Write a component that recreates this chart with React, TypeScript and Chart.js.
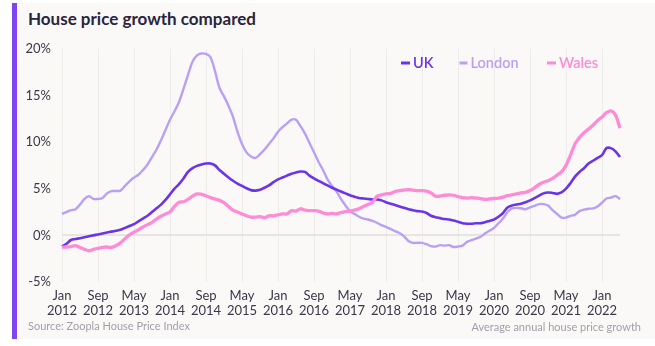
import React, { useEffect, useRef } from "react";
import { Chart, registerables } from "chart.js";

Chart.register(...registerables);

const MONTHS = ["Jan", "Feb", "Mar", "Apr", "May", "Jun", "Jul", "Aug", "Sep", "Oct", "Nov", "Dec"];
const START_YEAR = 2012;
const N_MONTHS = 125; // Jan 2012 .. May 2022
const categories: string[] = [];
for (let i = 0; i < N_MONTHS; i++) {
  categories.push(MONTHS[i % 12] + " " + (START_YEAR + Math.floor(i / 12)));
}
const TICK_EVERY = 8;

const ukValues = [
  // 2012
  -1.2, -0.9, -0.5, -0.4, -0.3, -0.2, -0.1, 0.0, 0.1, 0.2, 0.3, 0.4,
  // 2013
  0.5, 0.6, 0.8, 1.0, 1.2, 1.5, 1.8, 2.1, 2.5, 2.9, 3.3, 3.8,
  // 2014
  4.4, 5.0, 5.5, 6.1, 6.8, 7.2, 7.45, 7.6, 7.7, 7.7, 7.5, 7.0,
  // 2015
  6.6, 6.2, 5.85, 5.55, 5.3, 5.05, 4.85, 4.8, 4.9, 5.1, 5.35, 5.7,
  // 2016
  6.0, 6.2, 6.4, 6.6, 6.75, 6.85, 6.8, 6.4, 6.1, 5.85, 5.6, 5.35,
  // 2017
  5.1, 4.9, 4.7, 4.5, 4.3, 4.15, 4.0, 3.95, 3.9, 3.85, 3.85, 3.75,
  // 2018
  3.55, 3.4, 3.25, 3.1, 2.95, 2.8, 2.7, 2.6, 2.55, 2.4, 2.1, 1.95,
  // 2019
  1.85, 1.75, 1.7, 1.6, 1.45, 1.3, 1.25, 1.25, 1.3, 1.3, 1.4, 1.55,
  // 2020
  1.7, 2.0, 2.4, 3.0, 3.2, 3.3, 3.4, 3.55, 3.75, 4.0, 4.25, 4.5,
  // 2021
  4.6, 4.55, 4.45, 4.6, 5.0, 5.6, 6.3, 6.8, 7.2, 7.7, 8.0, 8.3,
  // 2022
  8.6, 9.35, 9.35, 9.0, 8.4,
];

const londonValues = [
  // 2012
  2.3, 2.5, 2.7, 2.8, 3.3, 3.9, 4.2, 3.9, 3.9, 4.0, 4.5, 4.75,
  // 2013
  4.75, 4.8, 5.3, 5.8, 6.2, 6.5, 7.0, 7.6, 8.4, 9.2, 10.2, 11.3,
  // 2014
  12.4, 13.3, 14.3, 15.7, 17.2, 18.6, 19.3, 19.5, 19.45, 19.1, 17.6, 15.8,
  // 2015
  14.9, 13.9, 12.7, 11.1, 9.8, 8.9, 8.45, 8.3, 8.7, 9.2, 9.8, 10.4,
  // 2016
  11.1, 11.6, 12.0, 12.4, 12.4, 11.7, 10.9, 9.9, 8.9, 7.9, 7.0, 6.0,
  // 2017
  5.3, 4.7, 3.9, 3.2, 2.6, 2.3, 2.0, 1.8, 1.7, 1.55, 1.35, 1.1,
  // 2018
  0.9, 0.7, 0.45, 0.25, -0.1, -0.6, -0.8, -0.8, -0.8, -0.95, -1.15, -1.2,
  // 2019
  -1.05, -1.1, -1.05, -1.25, -1.2, -1.1, -0.7, -0.5, -0.35, -0.15, 0.2, 0.5,
  // 2020
  0.8, 1.3, 1.8, 2.5, 2.9, 2.95, 2.9, 2.8, 3.0, 3.15, 3.35, 3.35,
  // 2021
  3.2, 2.7, 2.3, 1.9, 1.9, 2.1, 2.2, 2.6, 2.75, 2.85, 2.9, 3.1,
  // 2022
  3.5, 3.95, 4.05, 4.2, 3.9,
];

const walesValues = [
  // 2012
  -1.25, -1.25, -1.2, -1.1, -1.3, -1.5, -1.65, -1.5, -1.4, -1.3, -1.25, -1.3,
  // 2013
  -1.1, -0.8, -0.35, 0.05, 0.35, 0.6, 0.9, 1.15, 1.4, 1.75, 2.05, 2.3,
  // 2014
  2.5, 3.1, 3.55, 3.6, 3.85, 4.2, 4.45, 4.4, 4.25, 4.05, 3.9, 3.75,
  // 2015
  3.5, 3.1, 2.7, 2.5, 2.3, 2.1, 1.95, 1.95, 2.0, 1.9, 2.1, 2.1,
  // 2016
  2.2, 2.3, 2.3, 2.65, 2.6, 2.85, 2.7, 2.65, 2.65, 2.6, 2.4, 2.3,
  // 2017
  2.35, 2.3, 2.45, 2.55, 2.6, 2.7, 2.85, 3.1, 3.3, 3.55, 4.2, 4.35,
  // 2018
  4.45, 4.5, 4.7, 4.8, 4.85, 4.9, 4.85, 4.8, 4.8, 4.75, 4.55, 4.2,
  // 2019
  4.2, 4.3, 4.35, 4.3, 4.15, 4.05, 4.0, 4.05, 4.0, 3.95, 3.85, 3.9,
  // 2020
  3.95, 4.0, 4.1, 4.25, 4.35, 4.45, 4.55, 4.6, 4.8, 5.1, 5.45, 5.7,
  // 2021
  5.85, 6.1, 6.45, 6.8, 7.5, 8.6, 9.8, 10.5, 11.0, 11.4, 11.8, 12.3,
  // 2022
  12.7, 13.15, 13.35, 12.9, 11.5,
];

const Y_MIN = -5;
const Y_MAX = 20;
const Y_STEP = 5;

const COLOR_UK = "#6c34ea";
const COLOR_LONDON = "#b9a0f6";
const COLOR_WALES = "#ff8ad5";
const FONT = "Lato, 'Open Sans', sans-serif";

const legendItems = [
  { label: "UK", color: COLOR_UK },
  { label: "London", color: COLOR_LONDON },
  { label: "Wales", color: COLOR_WALES },
];

const legendPlugin = {
  id: "customLegend",
  afterDraw(chart: any) {
    const ctx = chart.ctx;
    // positions in canvas coordinates
    const xs = [384, 442.5, 530];
    const widths = [9, 8, 9];
    const y = 33;
    ctx.save();
    ctx.font = "600 14.5px " + FONT;
    ctx.textBaseline = "middle";
    legendItems.forEach((it, i) => {
      ctx.fillStyle = it.color;
      ctx.fillRect(xs[i], y - 1.5, widths[i], 3);
      ctx.fillText(it.label, xs[i] + widths[i] + 3, y + 0.5);
    });
    ctx.restore();
  },
};

export default function App() {
  const ref = useRef<HTMLCanvasElement | null>(null);

  useEffect(() => {
    if (!ref.current) return;
    const chart = new Chart(ref.current, {
      type: "line",
      data: {
        labels: categories,
        datasets: [
          {
            label: "UK",
            data: ukValues,
            borderColor: COLOR_UK,
            borderWidth: 2.6,
            pointRadius: 0,
            tension: 0.3,
            order: 1,
          },
          {
            label: "London",
            data: londonValues,
            borderColor: COLOR_LONDON,
            borderWidth: 2.4,
            pointRadius: 0,
            tension: 0.3,
            order: 2,
          },
          {
            label: "Wales",
            data: walesValues,
            borderColor: COLOR_WALES,
            borderWidth: 3.3,
            pointRadius: 0,
            tension: 0.3,
            order: 0,
          },
        ],
      },
      options: {
        responsive: false,
        animation: false,
        devicePixelRatio: 1,
        layout: { padding: { left: 0, right: 35, top: 18, bottom: 8 } },
        plugins: {
          legend: { display: false },
          tooltip: { enabled: false },
          title: { display: false },
        },
        scales: {
          x: {
            type: "category",
            offset: false,
            border: { display: false },
            grid: {
              color: "#eeece9",
              lineWidth: 1,
              drawTicks: false,
            },
            ticks: {
              autoSkip: false,
              maxRotation: 0,
              minRotation: 0,
              padding: 7,
              color: "#3b3747",
              font: { family: FONT, size: 13, lineHeight: 1.12 },
              callback: (_v: any, index: number) =>
                index % TICK_EVERY === 0 ? categories[index].split(" ") : null,
            },
            afterFit: (scale: any) => {
              scale.height = 40;
            },
          },
          y: {
            min: Y_MIN,
            max: Y_MAX,
            border: { display: false },
            grid: {
              drawTicks: false,
              color: (c: any) => (c.tick && c.tick.value === 0 ? "#e7e5e2" : "rgba(0,0,0,0)"),
              lineWidth: (c: any) => (c.tick && c.tick.value === 0 ? 2 : 0),
            },
            ticks: {
              stepSize: Y_STEP,
              padding: 11,
              color: "#3b3747",
              font: { family: FONT, size: 13 },
              callback: (v: any) => v + "%",
            },
            afterFit: (scale: any) => {
              scale.width = 45;
            },
          },
        },
      },
      plugins: [legendPlugin],
    });
    return () => chart.destroy();
  }, []);

  return (
    <div style={{ position: "fixed", left: 0, top: 0, width: 655, height: 346, background: "#ffffff", overflow: "hidden" }}>
      <div
        style={{
          position: "absolute",
          left: 12,
          top: 3,
          width: 643,
          height: 336,
          background: "#faf9f7",
          borderLeft: "5px solid #7d45f0",
          boxSizing: "border-box",
        }}
      />
      <div
        style={{
          position: "absolute",
          left: 28,
          top: 9,
          fontFamily: FONT,
          fontWeight: 700,
          fontSize: 17,
          lineHeight: "20px",
          color: "#2a2440",
          whiteSpace: "nowrap",
        }}
      >
        House price growth compared
      </div>
      <canvas
        ref={ref}
        width={638}
        height={300}
        style={{ position: "absolute", left: 17, top: 30, width: 638, height: 300 }}
      />
      <div
        style={{
          position: "absolute",
          left: 28,
          top: 319,
          fontFamily: FONT,
          fontSize: 11,
          lineHeight: "14px",
          color: "#a19eaa",
          whiteSpace: "nowrap",
        }}
      >
        Source: Zoopla House Price Index
      </div>
      <div
        style={{
          position: "absolute",
          right: 14,
          top: 320,
          fontFamily: FONT,
          fontSize: 11,
          lineHeight: "14px",
          color: "#a19eaa",
          whiteSpace: "nowrap",
        }}
      >
        Average annual house price growth
      </div>
    </div>
  );
}
